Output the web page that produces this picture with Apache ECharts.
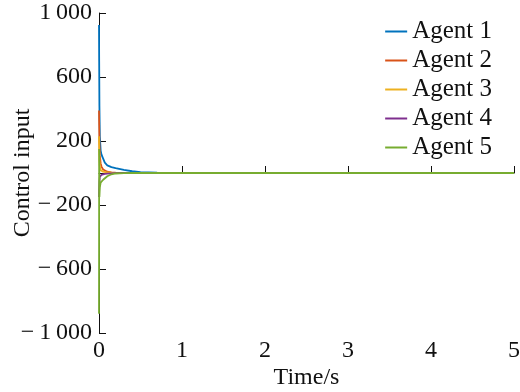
<!DOCTYPE html>
<html>
<head>
<meta charset="utf-8">
<script src="https://cdn.jsdelivr.net/npm/echarts@6/dist/echarts.min.js"></script>
<style>
  html, body { margin: 0; padding: 0; background: #fff; }
  #chart { width: 520px; height: 392px; }
</style>
</head>
<body>
<div id="chart"></div>
<script>
// Sample times (s)
const time = [0, 0.002, 0.005, 0.01, 0.02, 0.03, 0.05, 0.07, 0.1, 0.15, 0.2, 0.3, 0.4, 0.5, 0.7, 1, 2, 3, 4, 5];

// Control input of each agent
const agent1 = [925, 700, 420, 230, 140, 115, 90, 65, 48, 37, 30, 19, 11, 6, 2, 0.5, 0, 0, 0, 0];
const agent2 = [390, 300, 190, 110, 60, 40, 22, 14, 8, 4, 2, 0.5, 0, 0, 0, 0, 0, 0, 0, 0];
const agent3 = [230, 150, 80, 40, 18, 12, 8, 5, 3, 1.5, 0.5, 0, 0, 0, 0, 0, 0, 0, 0, 0];
const agent4 = [-150, -100, -55, -25, -14, -11, -8, -6, -4, -2, -1, 0, 0, 0, 0, 0, 0, 0, 0, 0];
const agent5 = [-880, 150, -150, -90, -60, -50, -42, -32, -20, -8, -3, -1, 0, 0, 0, 0, 0, 0, 0, 0];

const names = ['Agent 1', 'Agent 2', 'Agent 3', 'Agent 4', 'Agent 5'];
const values = [agent1, agent2, agent3, agent4, agent5];
const colors = ['#0072BD', '#D95319', '#EDB120', '#7E2F8E', '#77AC30'];

const FONT = '"Liberation Serif", "DejaVu Serif", serif';
const INK = '#111';

// "1 000" with a thin space, and a spaced minus sign for negatives
function fmtY(v) {
  const a = Math.abs(v);
  let s = a >= 1000 ? Math.floor(a / 1000) + '\u2009' + String(a % 1000).padStart(3, '0') : String(a);
  return v < 0 ? '\u2212\u2009' + s : s;
}

const chart = echarts.init(document.getElementById('chart'));
chart.setOption({
  animation: false,
  color: colors,
  grid: { left: 99, right: 6, top: 13, bottom: 59, containLabel: false, outerBoundsMode: 'none' },
  legend: {
    orient: 'vertical',
    right: 23,
    top: 14,
    icon: 'rect',
    itemWidth: 22,
    itemHeight: 2,
    itemGap: 4,
    data: names,
    textStyle: { fontFamily: FONT, fontSize: 25, color: INK }
  },
  xAxis: {
    type: 'value',
    min: 0, max: 5, interval: 1,
    name: 'Time/s',
    nameLocation: 'middle',
    nameGap: 33,
    nameMoveOverlap: false,
    nameTextStyle: { fontFamily: FONT, fontSize: 24, color: INK },
    axisLine: { lineStyle: { color: INK, width: 1 } },
    axisTick: { inside: true, length: 7, lineStyle: { color: INK } },
    axisLabel: { fontFamily: FONT, fontSize: 24, color: INK, margin: 6 },
    splitLine: { show: false }
  },
  yAxis: {
    type: 'value',
    min: -1000, max: 1000, interval: 400,
    name: 'Control input',
    nameLocation: 'middle',
    nameGap: 64,
    nameMoveOverlap: false,
    nameTextStyle: { fontFamily: FONT, fontSize: 24, color: INK },
    axisLine: { show: true, lineStyle: { color: INK, width: 1 } },
    axisTick: { show: true, inside: true, length: 7, lineStyle: { color: INK } },
    axisLabel: { fontFamily: FONT, fontSize: 24, color: INK, margin: 7, formatter: fmtY },
    splitLine: { show: false }
  },
  series: names.map((n, i) => ({
    name: n,
    type: 'line',
    showSymbol: false,
    lineStyle: { width: 1.8 },
    data: time.map((t, k) => [t, values[i][k]])
  }))
});
</script>
</body>
</html>
